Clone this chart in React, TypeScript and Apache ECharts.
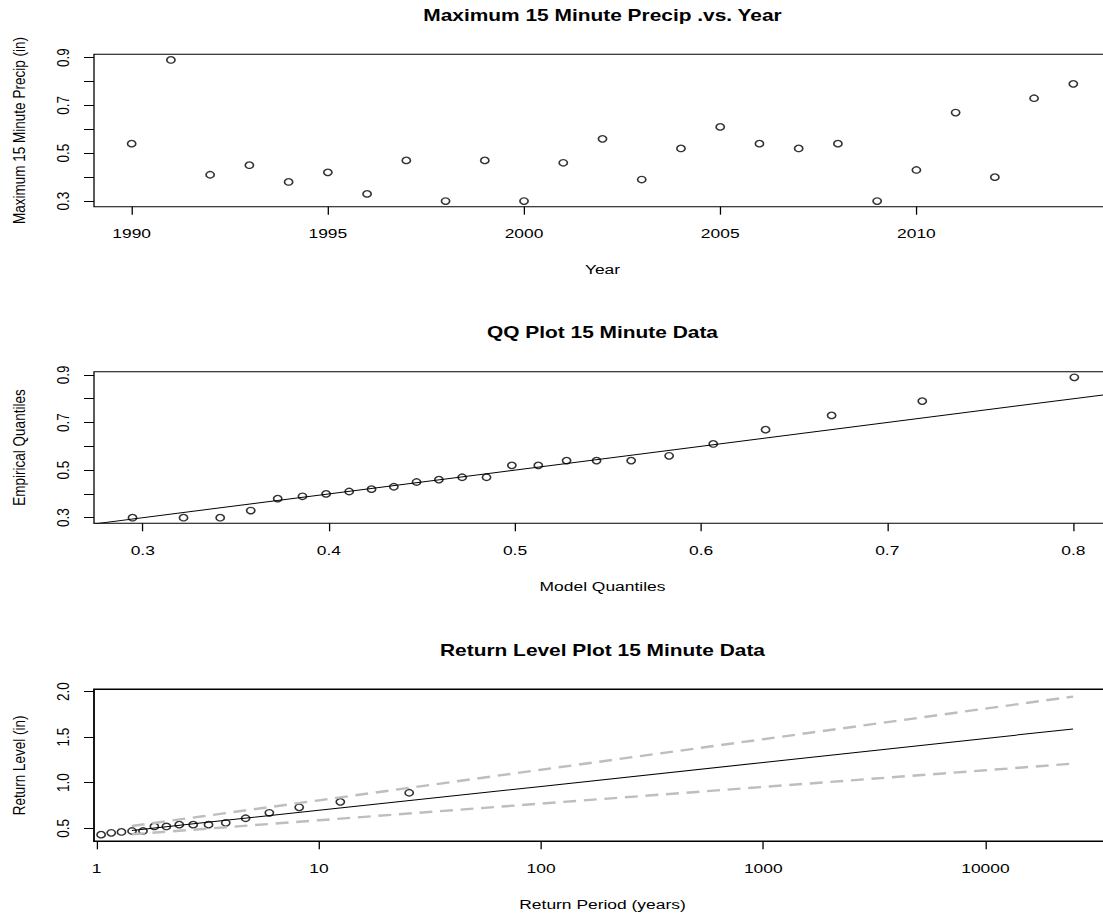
import React, { useEffect, useRef } from "react";
import * as echarts from "echarts";

// ---------- data ----------
const YEARS = [1990, 1991, 1992, 1993, 1994, 1995, 1996, 1997, 1998, 1999, 2000, 2001, 2002, 2003, 2004, 2005, 2006, 2007, 2008, 2009, 2010, 2011, 2012, 2013, 2014];
const MAX_PRECIP = [0.54, 0.89, 0.41, 0.45, 0.38, 0.42, 0.33, 0.47, 0.30, 0.47, 0.30, 0.46, 0.56, 0.39, 0.52, 0.61, 0.54, 0.52, 0.54, 0.30, 0.43, 0.67, 0.40, 0.73, 0.79];

const MODEL_Q = [0.2945, 0.3219, 0.3416, 0.358, 0.3725, 0.3858, 0.3985, 0.4109, 0.4229, 0.4349, 0.4471, 0.4591, 0.4716, 0.4847, 0.4983, 0.5125, 0.5277, 0.5438, 0.5624, 0.5828, 0.6065, 0.6346, 0.6701, 0.7188, 0.8005];
const EMPIRICAL_Q = [0.30, 0.30, 0.30, 0.33, 0.38, 0.39, 0.40, 0.41, 0.42, 0.43, 0.45, 0.46, 0.47, 0.47, 0.52, 0.52, 0.54, 0.54, 0.54, 0.56, 0.61, 0.67, 0.73, 0.79, 0.89];
const QQ_REF_LINE = [0.2, 0.9];

const RP_POINTS = [0.307, 0.392, 0.463, 0.534, 0.607, 0.682, 0.762, 0.848, 0.943, 1.047, 1.163, 1.293, 1.443, 1.616, 1.818, 2.06, 2.353, 2.719, 3.188, 3.811, 4.681, 5.985, 8.157, 12.49, 25.5];
const RP_CURVE = [1.44, 3, 10, 100, 1000, 10000, 24800];
const RL_FIT = [0.476, 0.56, 0.697, 0.96, 1.223, 1.487, 1.59];
const RL_UPPER = [0.525, 0.632, 0.807, 1.143, 1.478, 1.814, 1.946];
const RL_LOWER = [0.434, 0.492, 0.588, 0.771, 0.954, 1.137, 1.21];

// ---------- tick labels ----------
const YEAR_TICKS = [1990, 1995, 2000, 2005, 2010];
const PRECIP_TICKS = [0.3, 0.4, 0.5, 0.6, 0.7, 0.8, 0.9];
const PRECIP_LABELS = [0.3, 0.5, 0.7, 0.9];
const MODEL_TICKS = [0.3, 0.4, 0.5, 0.6, 0.7, 0.8];
const RP_TICKS = [1, 10, 100, 1000, 10000];
const RL_TICKS = [0.5, 1.0, 1.5, 2.0];

const SX = 1.29; // horizontal stretch of the reference
const px = (x: number) => x / SX;
const FONT = "'Liberation Sans', Arial, Helvetica, sans-serif";
const FS = 13.5;

const grid = (top: number, height: number, bw = 1) => ({
  left: px(94),
  top,
  width: px(1111) - px(94),
  height,
  show: true,
  borderColor: "#000",
  borderWidth: bw,
  backgroundColor: "transparent",
  containLabel: false,
  outerBoundsMode: "none",
});

const textStyle = { color: "#000", fontSize: FS, fontFamily: FONT };

const xAxis = (gridIndex: number, name: string, min: number, max: number, ticks: number[], labels: number[], fmt: (v: number) => string, type = "value") => ({
  type,
  gridIndex,
  min,
  max,
  name,
  nameLocation: "middle",
  nameGap: 56,
  nameMoveOverlap: false,
  nameTextStyle: textStyle,
  axisLine: { show: false },
  splitLine: { show: false },
  axisTick: { show: true, inside: false, length: 8, lineStyle: { color: "#000", width: 1 }, customValues: ticks },
  axisLabel: { ...textStyle, margin: 20, customValues: labels, formatter: (v: number) => fmt(v), showMinLabel: true, showMaxLabel: true },
});

const yAxis = (gridIndex: number, name: string, min: number, max: number, ticks: number[], labels: number[]) => ({
  type: "value",
  gridIndex,
  min,
  max,
  name,
  nameLocation: "middle",
  nameGap: 51,
  nameRotate: 90,
  nameMoveOverlap: false,
  nameTextStyle: textStyle,
  axisLine: { show: false },
  splitLine: { show: false },
  axisTick: { show: true, inside: false, length: px(10), lineStyle: { color: "#000", width: 1 }, customValues: ticks },
  axisLabel: { ...textStyle, rotate: 90, margin: 17, customValues: labels, formatter: (v: number) => v.toFixed(1) },
});

const pointStyle = {
  type: "scatter",
  symbol: "circle",
  symbolSize: 6.4,
  clip: true,
  itemStyle: { color: "rgba(255,255,255,0)", borderColor: "#000", borderWidth: 1.3 },
  emphasis: { disabled: true },
};

const title = (text: string, y: number) => ({
  type: "text",
  x: px(602.5),
  y,
  style: {
    text,
    fill: "#000",
    fontSize: 16.2,
    fontWeight: "bold",
    fontFamily: FONT,
    textAlign: "center",
    textVerticalAlign: "middle",
  },
});

export default function App() {
  const ref = useRef<HTMLDivElement>(null);
  useEffect(() => {
    if (!ref.current) return;
    const chart = echarts.init(ref.current, undefined, { renderer: "svg" });
    const option: any = {
      animation: false,
      backgroundColor: "#fff",
      grid: [grid(54.3, 152.4), grid(371.7, 151.6), grid(689.3, 152, 1.4)],
      xAxis: [
        xAxis(0, "Year", 1989.04, 2014.96, YEAR_TICKS, YEAR_TICKS, (v) => String(v)),
        xAxis(1, "Model Quantiles", 0.2738, 0.8202, MODEL_TICKS, MODEL_TICKS, (v) => v.toFixed(1)),
        { ...xAxis(2, "Return Period (years)", 0.9727, 36730, RP_TICKS, RP_TICKS, (v) => String(Math.round(v)), "log"), logBase: 10 },
      ],
      yAxis: [
        yAxis(0, "Maximum 15 Minute Precip (in)", 0.2764, 0.9136, PRECIP_TICKS, PRECIP_LABELS),
        yAxis(1, "Empirical Quantiles", 0.2764, 0.9136, PRECIP_TICKS, PRECIP_LABELS),
        yAxis(2, "Return Level (in)", 0.357, 2.026, RL_TICKS, RL_TICKS),
      ],
      graphic: [
        title("Maximum 15 Minute Precip .vs. Year", 15),
        title("QQ Plot 15 Minute Data", 332.7),
        title("Return Level Plot 15 Minute Data", 650),
      ],
      series: [
        { ...pointStyle, xAxisIndex: 0, yAxisIndex: 0, data: YEARS.map((y, i) => [y, MAX_PRECIP[i]]) },
        { ...pointStyle, xAxisIndex: 1, yAxisIndex: 1, data: MODEL_Q.map((m, i) => [m, EMPIRICAL_Q[i]]) },
        {
          type: "line", xAxisIndex: 1, yAxisIndex: 1, symbol: "none", clip: true, silent: true,
          lineStyle: { color: "#000", width: 1 },
          data: QQ_REF_LINE.map((v) => [v, v]),
        },
        { ...pointStyle, xAxisIndex: 2, yAxisIndex: 2, data: RP_POINTS.map((r, i) => [r, EMPIRICAL_Q[i]]) },
        {
          type: "line", xAxisIndex: 2, yAxisIndex: 2, symbol: "none", clip: true, silent: true,
          lineStyle: { color: "#000", width: 1 },
          data: RP_CURVE.map((r, i) => [r, RL_FIT[i]]),
        },
        {
          type: "line", xAxisIndex: 2, yAxisIndex: 2, symbol: "none", clip: true, silent: true,
          lineStyle: { color: "#BEBEBE", width: 2.4, type: [10, 6] },
          data: RP_CURVE.map((r, i) => [r, RL_UPPER[i]]),
        },
        {
          type: "line", xAxisIndex: 2, yAxisIndex: 2, symbol: "none", clip: true, silent: true,
          lineStyle: { color: "#BEBEBE", width: 2.4, type: [10, 6] },
          data: RP_CURVE.map((r, i) => [r, RL_LOWER[i]]),
        },
      ],
    };
    chart.setOption(option);
    return () => chart.dispose();
  }, []);

  return (
    <div style={{ position: "fixed", left: 0, top: 0, width: 1103, height: 913, overflow: "hidden", background: "#fff" }}>
      <div
        ref={ref}
        style={{ width: 866, height: 913, transform: `scaleX(${SX})`, transformOrigin: "0 0" }}
      />
    </div>
  );
}
